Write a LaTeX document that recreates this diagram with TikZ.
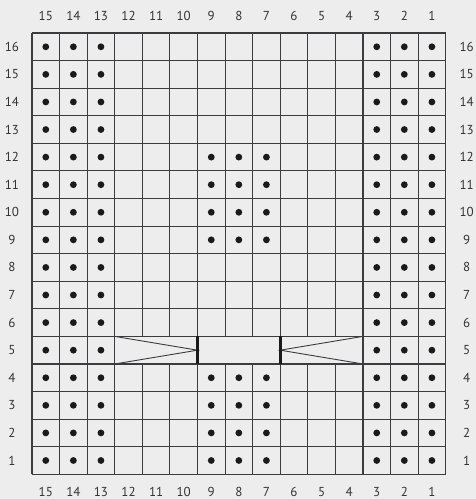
\documentclass[tikz,border=0pt]{standalone}
\usepackage{fontspec}
\setmainfont{PT Sans}
\usepackage{tikz}
\definecolor{chartbg}{RGB}{237,237,238}
\definecolor{gridgray}{RGB}{60,60,62}
\definecolor{dotblack}{RGB}{26,26,26}
\tikzset{
  gridline/.style = {gridgray, line width = 1.1pt},
  numlabel/.style = {font = \fontsize{13}{13}\selectfont, text = black!80, inner sep = 0pt},
  purl/.style = {fill = dotblack}
}

\begin{document}
\begin{tikzpicture}[x = 27.58pt, y = 27.58pt]
\fill[chartbg] (-1.16, -0.896) rectangle (16.099, 17.197);
\useasboundingbox (-1.16, -0.896) rectangle (16.099, 17.197);
% horizontal lines
\foreach \r in {0,...,16}
  \draw[gridline] (0, \r) -- (15, \r);
% vertical lines, row 5 left open for the cable
\foreach \k in {0,1,2,3,6,9,12,13,14,15}
  \draw[gridline] (\k, 0) -- (\k, 16);
\foreach \k in {4,5,7,8,10,11}
  \draw[gridline] (\k, 0) -- (\k, 4)
  (\k, 5) -- (\k, 16);
% cable in row 5
\draw[gridline, line width = 0.9pt] (3, 5) -- (6, 4.5) -- (3, 4)
(12, 5) -- (9, 4.5) -- (12, 4);
\draw[dotblack, line width = 3pt] (6, 4) -- (6, 5)
(9, 4) -- (9, 5);
% purl dots
\foreach \r in {1,...,16}
  \foreach \c in {0,1,2,12,13,14}
    \fill[purl] (\c + 0.5, \r - 0.5) circle (3.4pt);
\foreach \r in {1,2,3,4,9,10,11,12}
  \foreach \c in {6,7,8}
    \fill[purl] (\c + 0.5, \r - 0.5) circle (3.4pt);
% stitch numbers
\foreach \c in {1,...,15} {
  \node[numlabel] (top\c) at (15.5 - \c, 16.616) {\c};
  \node[numlabel] (bot\c) at (15.5 - \c, -0.631) {\c};
}
% row numbers
\foreach \r in {1,...,16} {
  \node[numlabel] (left\r) at (-0.725, \r - 0.5) {\r};
  \node[numlabel] (right\r) at (15.76, \r - 0.5) {\r};
}
\end{tikzpicture}
\end{document}
